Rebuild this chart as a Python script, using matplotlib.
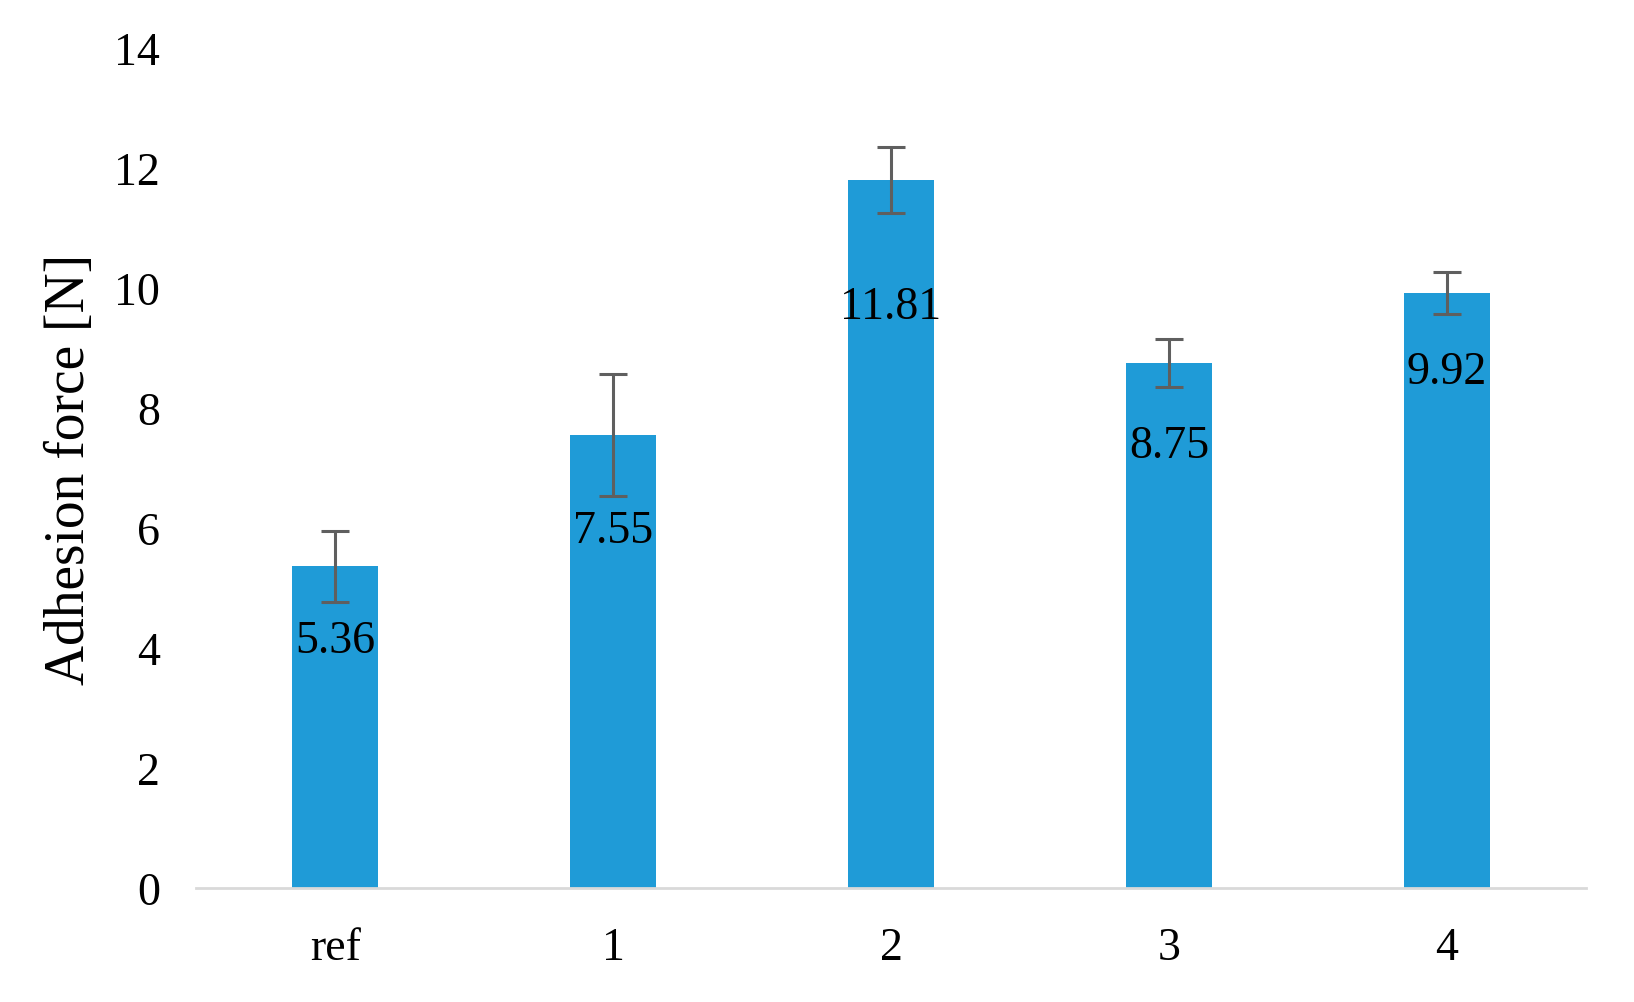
import matplotlib
matplotlib.use("Agg")
import matplotlib.pyplot as plt

categories = ["ref", "1", "2", "3", "4"]
means = [5.36, 7.55, 11.81, 8.75, 9.92]
errors = [0.59, 1.01, 0.55, 0.40, 0.35]
y_ticks = [0, 2, 4, 6, 8, 10, 12, 14]

# vertical drop of value labels below bar tops (data units)
label_drop = [1.24, 1.60, 2.12, 1.38, 1.32]

plt.rcParams['font.family'] = ['Liberation Serif', 'DejaVu Serif']

fig = plt.figure(figsize=(16.34, 10.03), dpi=100)
ax = fig.add_axes([0.12, 0.1137, 0.8506, 0.8373])

x = list(range(len(categories)))
ax.bar(x, means, width=0.31, color="#1F9BD7", zorder=2)
ax.errorbar(x, means, yerr=errors, fmt="none", ecolor="#5F5F5F",
            elinewidth=2.2, capsize=10, capthick=2.2, zorder=3)

for xi, m, d in zip(x, means, label_drop):
    ax.text(xi, m - d, f"{m:.2f}", ha="center", va="center",
            fontsize=33, color="black", zorder=4)

ax.set_xlim(-0.5, 4.5)
ax.set_ylim(0, 14)
ax.set_yticks(y_ticks)
ax.set_yticklabels([str(t) for t in y_ticks])
ax.set_xticks(x)
ax.set_xticklabels(categories)
ax.tick_params(axis="both", length=0, labelsize=33, colors="black")
ax.tick_params(axis="y", pad=26)
ax.tick_params(axis="x", pad=28)

for s in ["top", "right", "left"]:
    ax.spines[s].set_visible(False)
ax.spines["bottom"].set_color("#D9D9D9")
ax.spines["bottom"].set_linewidth(2)

ax.set_ylabel("Adhesion force [N]", fontsize=40, labelpad=13)

fig.savefig("out.png", dpi=100)
